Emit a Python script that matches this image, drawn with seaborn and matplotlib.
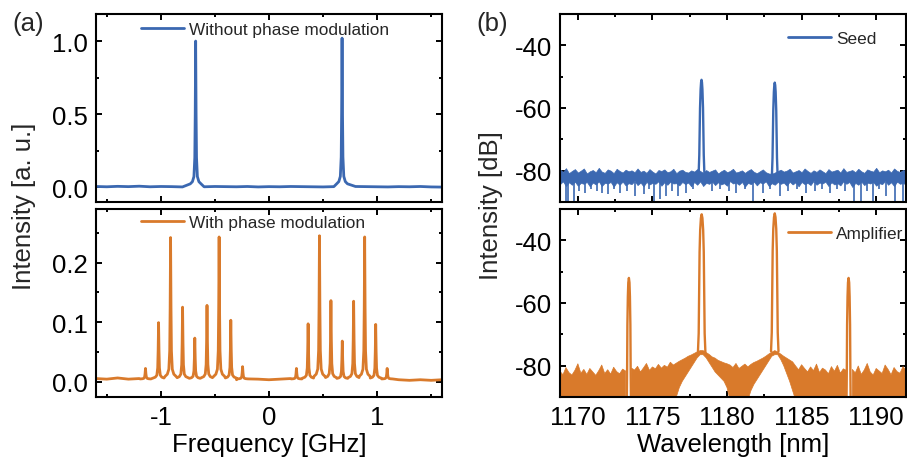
import numpy as np
import pandas as pd
import seaborn as sns
import matplotlib.pyplot as plt
from matplotlib.lines import Line2D
from matplotlib.ticker import MultipleLocator, FormatStrFormatter

sns.set_theme(style="ticks")
plt.rcParams["font.family"] = ["Liberation Sans", "DejaVu Sans"]
plt.rcParams["axes.unicode_minus"] = False

BLUE = "#3b68b1"
ORANGE = "#d97a2b"
FS = 18.5

# ---------------- (a) heterodyne spectra, frequency in GHz ----------------
freq_base = np.round(np.arange(-1.6, 1.601, 0.1), 2)
nomod_base = [0.006, 0.004, 0.007, 0.005, 0.008, 0.004, 0.006, 0.005, 0.003, 0.005, 0.004,
              0.006, 0.005, 0.004, 0.006, 0.003, 0.005, 0.004, 0.006, 0.005, 0.004, 0.003,
              0.005, 0.004, 0.006, 0.005, 0.004, 0.003, 0.005, 0.004, 0.006, 0.003, 0.002]
nomod_centers = [-0.678, 0.676]
nomod_heights = [1.00, 1.02]

mod_base = [0.005, 0.004, 0.006, 0.004, 0.005, 0.003, 0.004, 0.005, 0.004, 0.004, 0.003,
            0.005, 0.004, 0.003, 0.004, 0.004, 0.003, 0.004, 0.005, 0.004, 0.003, 0.004,
            0.004, 0.003, 0.005, 0.004, 0.003, 0.004, 0.003, 0.002, 0.003, 0.002, 0.003]
mod_centers = [-1.142, -1.021, -0.910, -0.799, -0.686, -0.573, -0.461, -0.353, -0.244,
               0.254, 0.362, 0.467, 0.573, 0.678, 0.783, 0.885, 0.987, 1.093]
mod_heights = [0.022, 0.099, 0.242, 0.125, 0.073, 0.128, 0.243, 0.103, 0.025,
               0.022, 0.097, 0.245, 0.136, 0.068, 0.135, 0.243, 0.096, 0.022]

# shape of one beat note (offset in GHz, fraction of peak height)
line_dx = [-0.05, -0.03, -0.016, -0.008, -0.004, 0.0, 0.004, 0.008, 0.016, 0.03, 0.05]
line_rel = [0.02, 0.035, 0.07, 0.2, 0.5, 1.0, 0.5, 0.2, 0.07, 0.035, 0.02]

# ---------------- (b) optical spectra, wavelength in nm ----------------
wl_grid = np.round(np.arange(1168.8, 1192.01, 0.2), 1)

seed_hi = [-79.6, -80.4, -79.2, -80.8, -80.1, -79.5, -80.6, -80.0, -79.3, -80.9,
           -80.2, -79.8, -80.5, -79.1, -80.3, -80.7, -79.6, -80.0, -80.8, -79.4,
           -80.1, -80.6, -79.7, -80.2, -79.9, -80.5, -79.3, -80.4, -80.0, -80.7,
           -79.5, -80.3, -80.9, -79.8, -80.1, -79.6, -80.5, -80.2, -79.4, -80.8,
           -80.0, -79.7, -80.4, -80.6, -79.9, -80.3, -79.5, -80.1, -80.7, -79.8,
           -80.4, -80.0, -79.6, -80.9, -80.2, -79.7, -80.5, -80.1, -79.4, -80.6,
           -80.3, -79.9, -80.7, -80.0, -79.5, -80.4, -80.8, -80.2, -79.6, -80.5,
           -80.9, -81.0, -80.6, -80.1, -79.7, -80.3, -80.0, -79.4, -80.6, -80.2,
           -79.8, -80.5, -79.3, -80.1, -80.7, -79.9, -80.4, -79.6, -80.2, -80.8,
           -79.5, -80.3, -80.0, -79.7, -80.6, -79.2, -80.4, -80.1, -79.8, -80.5,
           -79.4, -80.2, -80.7, -79.6, -80.0, -80.3, -79.1, -80.5, -79.9, -80.2,
           -79.7, -80.6, -79.3, -80.1, -80.4, -79.8, -80.0]
seed_lo = [-84.3, -83.4, -84.9, -83.7, -84.5, -83.5, -84.8, -83.9, -84.2, -83.6,
           -85.0, -83.8, -84.4, -83.4, -84.9, -83.9, -84.1, -83.6, -85.1, -83.7,
           -84.5, -83.5, -84.7, -84.0, -84.3, -83.3, -84.6, -83.8, -85.0, -83.6,
           -84.4, -83.9, -84.2, -83.4, -84.8, -83.7, -84.5, -83.5, -84.1, -84.0,
           -84.7, -83.6, -84.3, -83.8, -85.0, -83.6, -84.5, -83.4, -84.9, -83.9,
           -84.2, -83.5, -84.6, -83.7, -84.4, -84.0, -84.8, -83.3, -84.1, -83.8,
           -84.5, -83.6, -85.1, -83.9, -84.3, -83.5, -84.7, -83.7, -84.1, -83.4,
           -84.9, -84.0, -84.5, -83.6, -84.2, -83.8, -84.8, -83.5, -84.4, -83.7,
           -85.0, -83.6, -84.3, -83.9, -84.6, -83.3, -84.5, -83.8, -84.1, -83.5,
           -84.9, -83.7, -84.4, -84.0, -84.7, -83.4, -84.2, -83.6, -85.2, -83.9,
           -84.5, -83.5, -84.6, -83.8, -84.1, -83.6, -84.8, -84.0, -84.3, -83.3,
           -84.5, -83.7, -84.9, -83.5, -84.2, -83.9, -84.5]
# single-sample dropouts of the seed floor
seed_dip_x = [1169.18, 1169.35, 1169.73, 1170.1, 1170.5, 1170.9, 1171.3, 1171.6, 1172.05,
              1172.45, 1172.85, 1173.3, 1173.85, 1174.4, 1174.8, 1175.12, 1175.5, 1175.88,
              1176.3, 1176.68, 1177.28, 1177.7, 1179.0, 1179.5, 1180.1, 1180.6, 1181.2,
              1181.72, 1182.43, 1182.9, 1183.54, 1184.1, 1184.7, 1185.32, 1185.9, 1186.4,
              1186.88, 1187.4, 1187.9, 1188.48, 1189.0, 1189.4, 1189.78, 1190.2, 1190.67,
              1191.23, 1191.79]
seed_dip_y = [-91, -91, -91, -86.5, -87, -86, -86.5, -87, -87.5, -86, -87, -86.5, -88,
              -87.5, -86, -91, -89, -88, -86.5, -88, -87, -86, -86.5, -86, -86.5, -87,
              -86, -91, -87, -86, -88, -86.5, -86, -87, -86.5, -86, -87, -86, -86.5,
              -91, -91, -86.5, -91, -86, -88, -91, -91]
seed_centers = [1178.29, 1183.20]
seed_heights = [-51.0, -51.9]
seed_dx = [-0.2, -0.15, -0.1, -0.06, -0.03, 0.0, 0.03, 0.06, 0.1, 0.15, 0.2]
seed_drop = [31, 24, 9, 3, 0.8, 0, 0.8, 3, 9, 24, 31]

nan = np.nan
amp_hi = [-81.8, -82.9, -80.6, -82.2, -83.0, -81.5, -79.4, -82.4, -81.2, -82.8,
          -80.9, -82.0, -83.1, -81.6, -79.8, -82.5, -81.3, -82.7, -80.5, -81.9,
          -82.6, -81.1, -81.7, nan, -80.8,
          -81.4, -80.2, -82.0, -80.7, -79.3, -81.5, -80.4, -81.0, -79.6, -80.8,
          -79.9, -80.5, -78.9, -79.8,
          -79.2, -78.6, -78.1, -77.6, -77.0, -76.6, -76.1, -75.6, -75.2, -75.2,
          -75.8, -76.4, -77.2, -77.6, -78.3, -78.7, -79.1, -79.4,
          -79.8, -80.6, -79.3, -80.9, -80.2, -79.5, -80.4,
          -79.6, -79.0, -78.6, -78.1, -77.6, -77.0, -76.3, -75.7, -75.2, -75.6,
          -76.3, -77.0, -77.6, -78.2, -78.8,
          -80.1, -81.3, -79.7, -80.9, -82.0, -80.4, -81.6, -79.5, -82.2, -80.8,
          -81.4, -82.6, -80.3, -81.8, -79.9, -82.4, -81.0, -81.5, nan, -81.2,
          -82.3, -80.1, -82.8, -81.4, -79.3, -82.0, -83.0, -80.9, -81.7, -82.5,
          -79.8, -81.2, -82.9, -80.6, -81.9, -82.4, -80.3, -81.6]
amp_lo = ([-91] * 23 + [nan] + [-91] * 15 + [-90]
          + [-87, -85, -83.5, -82, -80.5, -79, -77.5, -76.5, -76.5]
          + [-77.5, -79, -80.5, -82, -83, -84, -85, -87]
          + [-91] * 7
          + [-88, -86, -84.5, -83, -81.5, -80, -78.5, -77, -76.5, -76.5]
          + [-78, -80, -82.5, -85, -88]
          + [-91] * 18 + [nan] + [-91] * 19)
amp_centers = [1173.42, 1178.30, 1183.20, 1188.15]
amp_heights = [-52.0, -31.7, -31.4, -52.0]
main_dx = [-0.25, -0.2, -0.17, -0.14, -0.1, -0.05, 0.0, 0.05, 0.1, 0.14, 0.17, 0.2, 0.25]
main_drop = [44, 38, 25, 12, 5, 1.2, 0, 1.2, 5, 12, 25, 38, 44]
side_dx = [-0.14, -0.12, -0.1, -0.07, -0.04, 0.0, 0.04, 0.07, 0.1, 0.12, 0.14]
side_drop = [40, 30, 15, 6, 1.5, 0, 1.5, 6, 15, 30, 40]


def beat_trace(base_x, base_y, centers, heights, floor):
    keep = [all(abs(x - c) > max(line_dx) for c in centers) for x in base_x]
    xs = [x for x, k in zip(base_x, keep) if k]
    ys = [y for y, k in zip(base_y, keep) if k]
    for c, h in zip(centers, heights):
        xs += [c + d for d in line_dx]
        ys += [floor + (h - floor) * r for r in line_rel]
    order = np.argsort(xs)
    return np.array(xs)[order], np.array(ys)[order]


def peak_frame(centers, heights, dxs, drops):
    rows = []
    for k, (c, h) in enumerate(zip(centers, heights)):
        dx, dr = dxs[k], drops[k]
        rows += [{"x": c + d, "y": h - q, "peak": k} for d, q in zip(dx, dr)]
    return pd.DataFrame(rows)


def style(ax):
    for s in ax.spines.values():
        s.set_linewidth(1.5)
        s.set_color("black")
    ax.tick_params(which="both", direction="in", top=True, right=True, width=1.4,
                   labelsize=FS, pad=6, colors="black")
    ax.tick_params(which="major", length=4.5)
    ax.tick_params(which="minor", length=2.5)


def legend(ax, color, text, x, y):
    ax.legend(handles=[Line2D([], [], color=color, lw=2)], labels=[text],
              loc="center left", bbox_to_anchor=(x, y), frameon=False, fontsize=12.4,
              handlelength=2.5, handletextpad=0.3, borderpad=0, borderaxespad=0)


fig = plt.figure(figsize=(9.07, 4.6), dpi=100)
ax_a1 = fig.add_axes([0.1058, 0.5587, 0.3815, 0.4087])
ax_a2 = fig.add_axes([0.1058, 0.1348, 0.3815, 0.4087], sharex=ax_a1)
ax_b1 = fig.add_axes([0.6174, 0.5587, 0.3815, 0.4087])
ax_b2 = fig.add_axes([0.6174, 0.1348, 0.3815, 0.4087], sharex=ax_b1)

# (a) top
x1, y1 = beat_trace(freq_base, nomod_base, nomod_centers, nomod_heights, 0.004)
sns.lineplot(x=x1, y=y1, ax=ax_a1, color=BLUE, lw=2, sort=False, estimator=None)
ax_a1.set_ylim(-0.1, 1.185)
ax_a1.set_yticks([0.0, 0.5, 1.0])
ax_a1.yaxis.set_minor_locator(MultipleLocator(0.25))
ax_a1.yaxis.set_major_formatter(FormatStrFormatter("%.1f"))
legend(ax_a1, BLUE, "Without phase modulation", 0.13, 0.92)

# (a) bottom
x2, y2 = beat_trace(freq_base, mod_base, mod_centers, mod_heights, 0.004)
sns.lineplot(x=x2, y=y2, ax=ax_a2, color=ORANGE, lw=2, sort=False, estimator=None)
ax_a2.set_ylim(-0.026, 0.29)
ax_a2.set_yticks([0.0, 0.1, 0.2])
ax_a2.yaxis.set_minor_locator(MultipleLocator(0.05))
ax_a2.yaxis.set_major_formatter(FormatStrFormatter("%.1f"))
legend(ax_a2, ORANGE, "With phase modulation", 0.13, 0.926)

ax_a2.set_xlim(-1.6, 1.6)
ax_a2.set_xticks([-1, 0, 1])
ax_a2.xaxis.set_minor_locator(MultipleLocator(0.5))

# (b) top: seed
ax_b1.fill_between(wl_grid, seed_lo, seed_hi, color=BLUE, lw=0.5)
ax_b1.vlines(seed_dip_x, -83.5, seed_dip_y, color=BLUE, lw=1.2)
seed_df = peak_frame(seed_centers, seed_heights, [seed_dx] * 2, [seed_drop] * 2)
sns.lineplot(data=seed_df, x="x", y="y", units="peak", estimator=None, sort=False,
             ax=ax_b1, color=BLUE, lw=1.7)
legend(ax_b1, BLUE, "Seed", 0.658, 0.872)

# (b) bottom: amplifier
ax_b2.fill_between(wl_grid, amp_lo, amp_hi, color=ORANGE, lw=0.5)
amp_df = peak_frame(amp_centers, amp_heights,
                    [side_dx, main_dx, main_dx, side_dx],
                    [side_drop, main_drop, main_drop, side_drop])
sns.lineplot(data=amp_df, x="x", y="y", units="peak", estimator=None, sort=False,
             ax=ax_b2, color=ORANGE, lw=1.7)
legend(ax_b2, ORANGE, "Amplifier", 0.658, 0.872)

for ax in (ax_b1, ax_b2):
    ax.set_ylim(-90, -30)
    ax.set_yticks([-80, -60, -40])
    ax.yaxis.set_minor_locator(MultipleLocator(10))
ax_b2.set_xlim(1168.8, 1192.0)
ax_b2.set_xticks([1170, 1175, 1180, 1185, 1190])
ax_b2.xaxis.set_minor_locator(MultipleLocator(2.5))

for ax in (ax_a1, ax_a2, ax_b1, ax_b2):
    style(ax)
    ax.set_ylabel("")
    ax.set_xlabel("")
for ax in (ax_a1, ax_b1):
    ax.tick_params(labelbottom=False)

ax_a2.set_xlabel("Frequency [GHz]", fontsize=FS, labelpad=2, color="black")
ax_b2.set_xlabel("Wavelength [nm]", fontsize=FS, labelpad=2, color="black")

fig.text(12 / 907, 1 - 24 / 460, "(a)", fontsize=FS, ha="left", va="center")
fig.text(476 / 907, 1 - 24 / 460, "(b)", fontsize=FS, ha="left", va="center")
fig.text(24 / 907, 1 - 206 / 460, "Intensity [a. u.]", fontsize=FS, rotation=90,
         ha="center", va="center")
fig.text(491 / 907, 1 - 206 / 460, "Intensity [dB]", fontsize=FS, rotation=90,
         ha="center", va="center")

fig.savefig("out.png", dpi=100)
